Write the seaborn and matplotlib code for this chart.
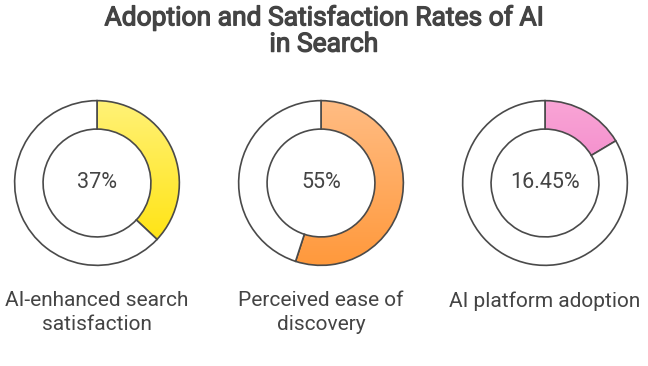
import numpy as np
import matplotlib
matplotlib.use("Agg")
import matplotlib.pyplot as plt
import matplotlib.patheffects as pe
from matplotlib.colors import LinearSegmentedColormap
import seaborn as sns

sns.set_theme(style="white")
plt.rcParams['font.family'] = ['Roboto', 'DejaVu Sans']

labels = ["AI-enhanced search\nsatisfaction", "Perceived ease of\ndiscovery", "AI platform adoption"]
values = [37, 55, 16.45]
value_texts = ["37%", "55%", "16.45%"]
grad_top = ["#fff27a", "#ffbd85", "#f9a6d6"]
grad_bot = ["#ffe100", "#ff983a", "#ee6cc0"]

W, H = 648, 366
fig = plt.figure(figsize=(W / 100, H / 100), dpi=100)
fig.patch.set_facecolor("white")

text_color = "#444444"
edge_color = "#4a4a4a"

centers_x = [97, 321, 545]
cy = 183
R = 84
ring_w = 29 / 84

for i, (v, cx) in enumerate(zip(values, centers_x)):
    ax = fig.add_axes([(cx - R) / W, (H - cy - R) / H, 2 * R / W, 2 * R / H])
    wedges, _ = ax.pie([v, 100 - v], startangle=90, counterclock=False,
                       radius=1.0,
                       colors=["none", "white"],
                       wedgeprops=dict(width=ring_w, edgecolor=edge_color, linewidth=1.2))
    cmap = LinearSegmentedColormap.from_list("g", [grad_bot[i], grad_top[i]])
    grad = np.linspace(0, 1, 256).reshape(-1, 1)
    im = ax.imshow(grad, cmap=cmap, extent=(-1.05, 1.05, -1.05, 1.05),
                   origin="lower", aspect="auto", zorder=0)
    im.set_clip_path(wedges[0])
    for w in wedges:
        w.set_zorder(2)
    ax.set_xlim(-1.02, 1.02)
    ax.set_ylim(-1.02, 1.02)
    ax.set_aspect("equal")
    ax.axis("off")
    ax.text(0, 0, value_texts[i], ha="center", va="center", fontsize=15.5,
            color=text_color)
    fig.text(cx / W, 1 - 291 / H, labels[i], ha="center", va="top",
             fontsize=15, color=text_color, linespacing=1.3)

fig.text(0.5, 1 - 31 / H, "Adoption and Satisfaction Rates of AI\nin Search",
         ha="center", va="center", fontsize=19, fontweight="normal",
         color=text_color, linespacing=1.12,
         path_effects=[pe.withStroke(linewidth=0.9, foreground=text_color)])

fig.savefig("out.png", dpi=100, facecolor="white")
